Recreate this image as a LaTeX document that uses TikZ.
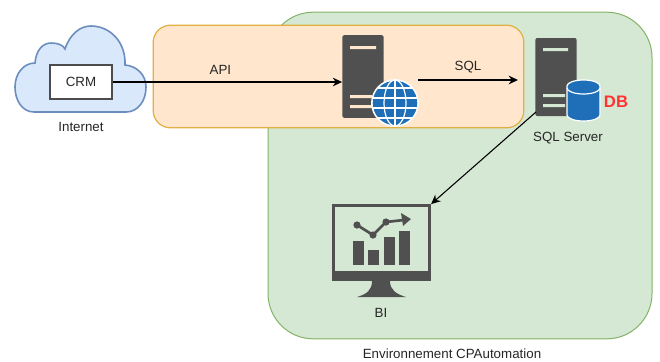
\documentclass[tikz,border=0pt]{standalone}
\usepackage{fontspec}
\setmainfont{Liberation Sans}
\usepackage{tikz}
\usetikzlibrary{arrows.meta, calc}

\definecolor{envgreen}{HTML}{D5E8D4}
\definecolor{envline}{HTML}{82B366}
\definecolor{zoneorange}{HTML}{FFE6CC}
\definecolor{zoneline}{HTML}{E0B040}
\definecolor{cloudblue}{HTML}{DAE8FC}
\definecolor{cloudline}{HTML}{6C8EBF}
\definecolor{icondark}{HTML}{505050}
\definecolor{iconblue}{HTML}{1F6FB8}
\definecolor{dbred}{HTML}{FF3333}

\begin{document}
\begin{tikzpicture}[
		x=0.75pt, y=-0.75pt,
		every node/.style={font=\fontsize{10}{12}\selectfont, align=center, text=black!85},
		arrow/.style={-{Stealth[length=7pt, width=6.5pt]}, line width=0.8pt, black},
		tower/.style={draw=none, fill=icondark, rounded corners=1.5pt, inner sep=0pt, minimum width=31pt},
		bi screen/.style={draw=icondark, line width=2.4pt, fill=none, inner sep=0pt, minimum width=72pt, minimum height=50pt}
		]
		\useasboundingbox (0,0) rectangle (660,361);
		
		% Zones
		\node[draw=envline, fill=envgreen, line width=0.75pt, rounded corners=34pt, inner sep=0pt, minimum width=288pt, minimum height=245pt] (env) at (460, 175.5) {};
		\node[draw=zoneline, fill=zoneorange, line width=0.9pt, rounded corners=13pt, inner sep=0pt, minimum width=278pt, minimum height=77pt] (zone) at (338.5, 76.5) {};
		
		% Cloud
		\draw[draw=cloudline, fill=cloudblue, line width=1.2pt]
			(34,112) .. controls (22,112) and (15,100) .. (15,87)
			.. controls (15,73) and (24,63) .. (35,63)
			.. controls (36,50) and (43,43) .. (51,43)
			.. controls (58,43) and (63,45) .. (65,49)
			.. controls (70,34) and (80,26) .. (91,26)
			.. controls (110,26) and (126,42) .. (125,65)
			.. controls (137,66) and (146,75) .. (146,87)
			.. controls (146,101) and (138,112) .. (126,112) -- cycle;
		\node[draw=black!70, fill=white, line width=0.9pt, inner sep=0pt, minimum width=46.5pt, minimum height=25.5pt] (crm) at (81, 82) {CRM};
		\node (internet) at (81, 127) {Internet};
		
		% Web server
		\node[tower, minimum height=62pt] (websrv) at (363, 76.5) {};
		\fill[zoneorange] (350,46) rectangle (376,49) (350,95) rectangle (372,98) (350,105) rectangle (372,108);
		\node[circle, fill=iconblue, draw=white, line width=0.9pt, inner sep=0pt, minimum size=35pt] (globe) at (395, 103) {};
		\begin{scope}[white, line width=0.9pt]
			\clip (395,103) circle (23);
			\foreach \rowy in {-15,-5,5,15} \draw (370,103+\rowy) -- (420,103+\rowy);
			\draw (395,78) -- (395,128);
			\draw (395,103) ellipse (11 and 23);
			\draw (395,103) ellipse (23 and 23);
		\end{scope}
		\coordinate (webout) at (418, 80);
		
		% SQL server
		\node[tower, minimum height=58.5pt] (sqlsrv) at (556, 77) {};
		\fill[envgreen] (543,48) rectangle (568,51) (543,94) rectangle (565,97) (543,104) rectangle (565,107);
		\coordinate (sqlout) at (536, 112);
		\coordinate (sqlin) at (518, 80);
		\fill[iconblue, draw=white, line width=0.9pt]
			(567,86) arc[start angle=180, end angle=360, x radius=16.5, y radius=6]
			-- (600,115) arc[start angle=0, end angle=180, x radius=16.5, y radius=6] -- cycle;
		\draw[white, line width=0.9pt] (567,88) arc[start angle=180, end angle=0, x radius=16.5, y radius=6];
		\node[text=dbred, font=\fontsize{12.5}{14}\selectfont\bfseries] (db) at (616, 102) {DB};
		\node (sqlname) at (568, 138) {SQL Server};
		
		% BI monitor
		\node[bi screen] (bi) at (381.5, 239) {};
		\fill[icondark] (332,272) rectangle (431,281);
		\fill[icondark] (372,281) -- (390,281) .. controls (390,290) and (396,294) .. (406,297) -- (357,297) .. controls (367,294) and (372,290) .. (372,281) -- cycle;
		\foreach \barx/\bary/\barw in {353/241/11, 368/250/11, 384/237/11, 399/231/11}
			\fill[icondark] (\barx,\bary) rectangle (\barx+\barw,265);
		\draw[icondark, line width=2pt] (357,225) -- (373,235) -- (386,222) -- (404,220);
		\fill[icondark] (357,225) circle (3.6) (373,235) circle (3.6) (386,222) circle (3.6);
		\fill[icondark] (401,213) -- (411,219) -- (403,226) -- cycle;
		\node (biname) at (381, 313) {BI};
		\node (envname) at (452, 354) {Environnement CPAutomation};
		
		% Connectors
		\draw[arrow] (crm.east) -- node[pos=0.47, above=5pt, inner sep=0pt] (api) {API} (crm.east -| websrv.west);
		\draw[arrow] (webout) -- node[midway, above=5pt, inner sep=0pt] (sql) {SQL} (sqlin);
		\draw[arrow] (sqlout) -- (bi.north east);
		
	\end{tikzpicture}
\end{document}
